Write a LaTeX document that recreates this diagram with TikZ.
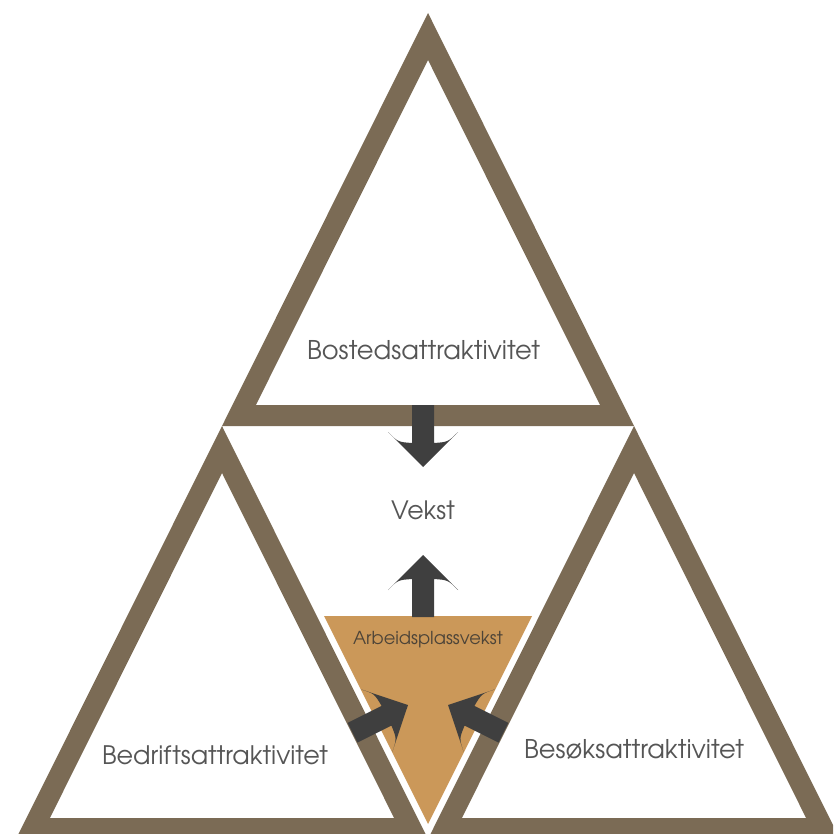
\documentclass[tikz,border=0pt]{standalone}
\usepackage{fontspec}
\setmainfont{TeX Gyre Adventor}
\usepackage{graphicx}
\definecolor{framebrown}{HTML}{7B6B55}
\definecolor{gold}{HTML}{CB9859}
\definecolor{arrowgray}{HTML}{3F3F3F}
\definecolor{txtgray}{HTML}{555555}
\definecolor{arbtxt}{HTML}{4D4438}
\tikzset{
  tri/.style={fill=framebrown, even odd rule},
  txtlabel/.style={text=txtgray, inner sep=0pt, anchor=base},
  blockarrow/.pic={\fill[arrowgray] (0,-11) -- (38,-11) .. controls (37,-25) .. (27,-35) -- (62,0) -- (27,35) .. controls (37,25) .. (38,11) -- (0,11) -- cycle;}
}
\begin{document}
\begin{tikzpicture}[x=1pt,y=-1pt]
\useasboundingbox (0,0) rectangle (833,834);
\begin{scope}
\clip (0,0) rectangle (833,834);
% top triangle
\fill[tri] (428,13) -- (222,426) -- (634,426) -- cycle
           (428,60) -- (255.9,405) -- (600.1,405) -- cycle;
% bottom-left triangle
\fill[tri] (222,426) -- (16,839) -- (428,839) -- cycle
           (222,473) -- (49.9,818) -- (394.1,818) -- cycle;
% bottom-right triangle
\fill[tri] (634,426) -- (428,839) -- (840,839) -- cycle
           (634,473) -- (461.9,818) -- (806.1,818) -- cycle;
\end{scope}
% central inverted triangle
\fill[gold] (324,616) -- (532,616) -- (428,824) -- cycle;
% arrows
\coordinate (dA) at (423,405);
\coordinate (uA) at (423,617);
\coordinate (lA) at (352.5,732.7);
\coordinate (rA) at (503.5,732.7);
\pic[rotate=-90] at (dA) {blockarrow};
\pic[rotate=90] at (uA) {blockarrow};
\pic[rotate=26.5] at (lA) {blockarrow};
\pic[rotate=153.5] at (rA) {blockarrow};
% labels
\node[txtlabel] (bo) at (423.5,359) {\resizebox{233pt}{!}{\fontsize{26}{30}\selectfont Bostedsattraktivitet}};
\node[txtlabel] (ve) at (423,519) {\resizebox{64pt}{!}{\fontsize{26}{30}\selectfont Vekst}};
\node[txtlabel, text=arbtxt] (ar) at (428,644) {\resizebox{150pt}{!}{\fontsize{18}{22}\selectfont Arbeidsplassvekst}};
\node[txtlabel] (bd) at (215,764) {\resizebox{226pt}{!}{\fontsize{26}{30}\selectfont Bedriftsattraktivitet}};
\node[txtlabel] (be) at (634,758) {\resizebox{220pt}{!}{\fontsize{26}{30}\selectfont Besøksattraktivitet}};
\end{tikzpicture}
\end{document}
